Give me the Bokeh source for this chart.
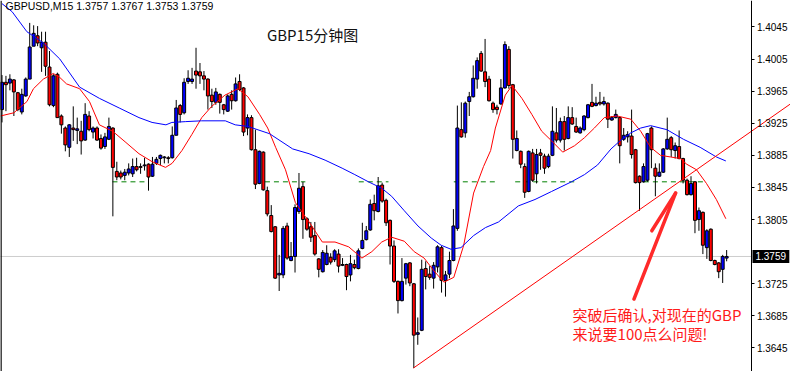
from bokeh.plotting import figure
from bokeh.models import Range1d, FixedTicker, PrintfTickFormatter, Span, ColumnDataSource
from bokeh.embed import file_html
from bokeh.resources import INLINE
from bokeh.core.properties import value

# ---------------- data ----------------
symbol = "GBPUSD,M15"
title_text = "GBP15分钟图"
note_lines = ["突破后确认,对现在的GBP", "来说要100点么问题!"]

opens = [1.3942, 1.3976, 1.3975, 1.3979, 1.3963, 1.3939, 1.3959, 1.3980, 1.4021, 1.4034,
         1.4019, 1.4026, 1.3995, 1.3947, 1.3986, 1.3934, 1.3919, 1.3895, 1.3919, 1.3916,
         1.3915, 1.3904, 1.3934, 1.3914, 1.3919, 1.3906, 1.3896, 1.3905, 1.3919, 1.3865,
         1.3863, 1.3860, 1.3863, 1.3862, 1.3871, 1.3871, 1.3872, 1.3874, 1.3859, 1.3875,
         1.3881, 1.3882, 1.3882, 1.3882, 1.3910, 1.3947, 1.3938, 1.3977, 1.3977, 1.3990,
         1.3989, 1.3984, 1.3980, 1.3960, 1.3951, 1.3961, 1.3948, 1.3940, 1.3961, 1.3953,
         1.3977, 1.3969, 1.3919, 1.3932, 1.3892, 1.3850, 1.3889, 1.3841, 1.3810, 1.3796,
         1.3736, 1.3736, 1.3797, 1.3754, 1.3759, 1.3815, 1.3846, 1.3806, 1.3796, 1.3785,
         1.3756, 1.3740, 1.3749, 1.3758, 1.3755, 1.3762, 1.3748, 1.3749, 1.3736, 1.3749,
         1.3744, 1.3769, 1.3780, 1.3792, 1.3825, 1.3815, 1.3848, 1.3829, 1.3804, 1.3772,
         1.3728, 1.3704, 1.3732, 1.3751, 1.3725, 1.3662, 1.3667, 1.3744, 1.3737, 1.3732,
         1.3746, 1.3770, 1.3729, 1.3737, 1.3754, 1.3794, 1.3917, 1.3913, 1.3952, 1.3958,
         1.3980, 1.4012, 1.3989, 1.3980, 1.3950, 1.3945, 1.3949, 1.3969, 1.4017, 1.3973,
         1.3891, 1.3890, 1.3871, 1.3840, 1.3888, 1.3862, 1.3888, 1.3884, 1.3871, 1.3885,
         1.3913, 1.3904, 1.3927, 1.3906, 1.3932, 1.3921, 1.3913, 1.3917, 1.3932, 1.3951,
         1.3947, 1.3951, 1.3949, 1.3950, 1.3929, 1.3932, 1.3932, 1.3905, 1.3908, 1.3909,
         1.3892, 1.3859, 1.3852, 1.3854, 1.3919, 1.3869, 1.3859, 1.3864, 1.3893, 1.3907,
         1.3891, 1.3896, 1.3881, 1.3854, 1.3836, 1.3852, 1.3805, 1.3814, 1.3770, 1.3793,
         1.3754, 1.3751, 1.3743, 1.3757]
highs = [1.3985, 1.3984, 1.3986, 1.3980, 1.3964, 1.3968, 1.3982, 1.4050, 1.4047, 1.4046,
         1.4039, 1.4039, 1.4015, 1.3986, 1.3988, 1.3936, 1.3921, 1.3924, 1.3946, 1.3932,
         1.3928, 1.3950, 1.3940, 1.3921, 1.3921, 1.3911, 1.3913, 1.3932, 1.3920, 1.3877,
         1.3866, 1.3868, 1.3875, 1.3881, 1.3882, 1.3875, 1.3882, 1.3875, 1.3883, 1.3883,
         1.3886, 1.3884, 1.3884, 1.3921, 1.3954, 1.3949, 1.3981, 1.3991, 1.3994, 1.4019,
         1.4000, 1.3990, 1.3981, 1.3968, 1.3969, 1.3962, 1.3949, 1.3961, 1.3966, 1.3982,
         1.3986, 1.3970, 1.3936, 1.3935, 1.3917, 1.3891, 1.3890, 1.3846, 1.3823, 1.3797,
         1.3761, 1.3797, 1.3801, 1.3777, 1.3824, 1.3863, 1.3852, 1.3808, 1.3802, 1.3802,
         1.3757, 1.3767, 1.3773, 1.3763, 1.3768, 1.3768, 1.3757, 1.3750, 1.3761, 1.3755,
         1.3769, 1.3801, 1.3797, 1.3830, 1.3836, 1.3858, 1.3851, 1.3831, 1.3805, 1.3779,
         1.3729, 1.3757, 1.3751, 1.3752, 1.3726, 1.3683, 1.3755, 1.3753, 1.3747, 1.3752,
         1.3773, 1.3772, 1.3741, 1.3765, 1.3818, 1.3947, 1.3951, 1.3952, 1.3964, 1.3997,
         1.4007, 1.4015, 1.4030, 1.3984, 1.3952, 1.3948, 1.3980, 1.4027, 1.4021, 1.3974,
         1.3916, 1.3891, 1.3875, 1.3891, 1.3893, 1.3893, 1.3893, 1.3887, 1.3887, 1.3946,
         1.3944, 1.3932, 1.3934, 1.3946, 1.3945, 1.3932, 1.3921, 1.3935, 1.3949, 1.3974,
         1.3958, 1.3964, 1.3958, 1.3951, 1.3934, 1.3942, 1.3933, 1.3919, 1.3915, 1.3942,
         1.3893, 1.3860, 1.3875, 1.3913, 1.3921, 1.3875, 1.3875, 1.3894, 1.3932, 1.3909,
         1.3901, 1.3916, 1.3882, 1.3856, 1.3859, 1.3853, 1.3820, 1.3815, 1.3793, 1.3794,
         1.3755, 1.3752, 1.3761, 1.3767]
lows = [1.3926, 1.3940, 1.3966, 1.3934, 1.3940, 1.3936, 1.3958, 1.3980, 1.4021, 1.4021,
        1.3989, 1.3984, 1.3946, 1.3945, 1.3932, 1.3912, 1.3890, 1.3883, 1.3903, 1.3899,
        1.3886, 1.3903, 1.3915, 1.3906, 1.3903, 1.3892, 1.3893, 1.3904, 1.3809, 1.3854,
        1.3855, 1.3854, 1.3860, 1.3858, 1.3865, 1.3862, 1.3866, 1.3841, 1.3858, 1.3873,
        1.3873, 1.3875, 1.3875, 1.3881, 1.3910, 1.3926, 1.3936, 1.3974, 1.3974, 1.3968,
        1.3974, 1.3966, 1.3942, 1.3944, 1.3948, 1.3937, 1.3936, 1.3939, 1.3942, 1.3952,
        1.3965, 1.3909, 1.3910, 1.3891, 1.3843, 1.3849, 1.3841, 1.3809, 1.3789, 1.3731,
        1.3716, 1.3732, 1.3755, 1.3753, 1.3739, 1.3812, 1.3781, 1.3791, 1.3777, 1.3760,
        1.3733, 1.3739, 1.3748, 1.3749, 1.3752, 1.3739, 1.3747, 1.3717, 1.3728, 1.3743,
        1.3743, 1.3768, 1.3779, 1.3791, 1.3804, 1.3814, 1.3826, 1.3797, 1.3749, 1.3726,
        1.3688, 1.3703, 1.3724, 1.3722, 1.3620, 1.3649, 1.3666, 1.3718, 1.3730, 1.3719,
        1.3739, 1.3714, 1.3709, 1.3732, 1.3753, 1.3791, 1.3907, 1.3907, 1.3934, 1.3957,
        1.3968, 1.3989, 1.3970, 1.3952, 1.3938, 1.3936, 1.3948, 1.3968, 1.3968, 1.3881,
        1.3890, 1.3869, 1.3832, 1.3839, 1.3852, 1.3850, 1.3867, 1.3862, 1.3869, 1.3884,
        1.3901, 1.3901, 1.3891, 1.3905, 1.3923, 1.3913, 1.3912, 1.3915, 1.3931, 1.3945,
        1.3946, 1.3947, 1.3947, 1.3919, 1.3928, 1.3931, 1.3875, 1.3903, 1.3901, 1.3881,
        1.3850, 1.3816, 1.3851, 1.3852, 1.3869, 1.3834, 1.3858, 1.3863, 1.3892, 1.3883,
        1.3881, 1.3880, 1.3850, 1.3835, 1.3835, 1.3788, 1.3791, 1.3762, 1.3756, 1.3753,
        1.3748, 1.3732, 1.3726, 1.3753]
closes = [1.3976, 1.3973, 1.3980, 1.3964, 1.3942, 1.3961, 1.3980, 1.4020, 1.4037, 1.4025,
          1.4026, 1.3996, 1.3948, 1.3984, 1.3932, 1.3923, 1.3898, 1.3923, 1.3917, 1.3918,
          1.3903, 1.3936, 1.3917, 1.3919, 1.3904, 1.3894, 1.3908, 1.3921, 1.3870, 1.3858,
          1.3858, 1.3864, 1.3868, 1.3871, 1.3867, 1.3870, 1.3873, 1.3858, 1.3874, 1.3880,
          1.3885, 1.3883, 1.3881, 1.3910, 1.3944, 1.3936, 1.3976, 1.3981, 1.3980, 1.3985,
          1.3984, 1.3980, 1.3959, 1.3952, 1.3964, 1.3951, 1.3942, 1.3959, 1.3953, 1.3974,
          1.3967, 1.3914, 1.3932, 1.3892, 1.3849, 1.3890, 1.3842, 1.3812, 1.3790, 1.3732,
          1.3738, 1.3794, 1.3757, 1.3759, 1.3820, 1.3844, 1.3805, 1.3793, 1.3783, 1.3762,
          1.3743, 1.3764, 1.3763, 1.3752, 1.3766, 1.3747, 1.3749, 1.3734, 1.3750, 1.3745,
          1.3766, 1.3779, 1.3791, 1.3824, 1.3816, 1.3847, 1.3828, 1.3801, 1.3772, 1.3728,
          1.3704, 1.3728, 1.3750, 1.3726, 1.3661, 1.3664, 1.3743, 1.3734, 1.3733, 1.3748,
          1.3771, 1.3729, 1.3736, 1.3754, 1.3797, 1.3919, 1.3908, 1.3950, 1.3958, 1.3981,
          1.4003, 1.3990, 1.3977, 1.3953, 1.3942, 1.3942, 1.3969, 1.4023, 1.3972, 1.3905,
          1.3906, 1.3874, 1.3839, 1.3890, 1.3854, 1.3886, 1.3885, 1.3869, 1.3884, 1.3915,
          1.3904, 1.3927, 1.3905, 1.3932, 1.3924, 1.3914, 1.3919, 1.3934, 1.3948, 1.3946,
          1.3950, 1.3949, 1.3952, 1.3930, 1.3932, 1.3936, 1.3897, 1.3910, 1.3911, 1.3886,
          1.3851, 1.3851, 1.3871, 1.3912, 1.3892, 1.3859, 1.3864, 1.3893, 1.3905, 1.3892,
          1.3897, 1.3881, 1.3854, 1.3836, 1.3850, 1.3804, 1.3816, 1.3773, 1.3791, 1.3754,
          1.3749, 1.3740, 1.3759, 1.3759]

# moving averages (bar index, price)
red_ma_idx = [-0.4, 3.0, 6.3, 7.95, 10.45, 12.95, 14.6, 16.3, 19.6, 22.1, 24.6, 27.95, 31.3,
              34.6, 37.95, 41.3, 42.95, 45.45, 47.95, 50.45, 52.95, 56.3, 59.6, 62.1, 65.05,
              67.1, 69.1, 71.6, 74.1, 77.55, 80.9, 84.1, 87.55, 90.9, 93.4, 95.9, 98.4, 101.6,
              104.1, 106.6, 109.1, 111.6, 114.1, 116.6, 119.1, 121.6, 123.4, 124.6, 127.1,
              128.8, 131.3, 133.8, 136.3, 138.8, 141.6, 144.6, 147.1, 149.6, 152.1, 155.4,
              158.8, 161.3, 163.8, 166.3, 168.8, 171.3, 172.9, 175.4, 177.9, 180.4, 182.8]
red_ma_val = [1.3934, 1.3938, 1.3952, 1.3968, 1.3980, 1.3987, 1.3982, 1.3974, 1.3968, 1.3952,
              1.3923, 1.3915, 1.3901, 1.3887, 1.3877, 1.3870, 1.3875, 1.3891, 1.3911, 1.3932,
              1.3946, 1.3960, 1.3968, 1.3958, 1.3936, 1.3919, 1.3895, 1.3867, 1.3826, 1.3802,
              1.3777, 1.3777, 1.3771, 1.3757, 1.3765, 1.3777, 1.3783, 1.3778, 1.3765, 1.3757,
              1.3741, 1.3727, 1.3733, 1.3773, 1.3838, 1.3871, 1.3891, 1.3919, 1.3960, 1.3972,
              1.3956, 1.3936, 1.3915, 1.3903, 1.3889, 1.3897, 1.3907, 1.3919, 1.3932, 1.3934,
              1.3930, 1.3915, 1.3895, 1.3885, 1.3883, 1.3881, 1.3874, 1.3867, 1.3850, 1.3830,
              1.3806]
blue_ma_idx = [0.0, 2.55, 6.3, 10.45, 14.6, 19.6, 24.6, 29.6, 34.6, 37.9, 41.4, 42.9, 46.4,
               50.4, 56.4, 58.9, 62.1, 67.55, 73.4, 77.55, 81.6, 85.9, 89.1, 92.55, 95.9, 98.4,
               101.6, 105.05, 108.4, 110.9, 113.4, 115.9, 119.1, 122.1, 125.4, 130.4, 134.6,
               138.8, 143.8, 147.1, 150.4, 153.8, 156.3, 158.8, 161.3, 163.8, 167.9, 172.1,
               176.3, 180.4, 182.8]
blue_ma_val = [1.4074, 1.4064, 1.4039, 1.4025, 1.4005, 1.3970, 1.3956, 1.3944, 1.3932, 1.3926,
               1.3923, 1.3926, 1.3927, 1.3928, 1.3928, 1.3923, 1.3921, 1.3912, 1.3893, 1.3887,
               1.3879, 1.3869, 1.3861, 1.3852, 1.3844, 1.3834, 1.3816, 1.3797, 1.3782, 1.3773,
               1.3768, 1.3770, 1.3785, 1.3795, 1.3802, 1.3822, 1.3830, 1.3840, 1.3852, 1.3861,
               1.3873, 1.3893, 1.3904, 1.3913, 1.3919, 1.3922, 1.3917, 1.3905, 1.3895, 1.3883,
               1.3878]

# dashed support level (price) and the bar spans where it is drawn
level_price = 1.3852
level_start = [27.9, 66.4, 90.1, 114.1, 129.6, 162.1]
level_end = [37.1, 76.6, 97.6, 124.6, 144.6, 177.9]

# hand-drawn trend line and arrow (bar index, price)
trend_idx = [103.9, 199.1]
trend_val = [1.3620, 1.3949]
arrow_x0 = [159.6, 164.1]
arrow_y0 = [1.3706, 1.3791]
arrow_x1 = [170.1, 170.1]
arrow_y1 = [1.3838, 1.3838]

price_ticks = [1.4045, 1.4005, 1.3965, 1.3925, 1.3885, 1.3845, 1.3805, 1.3725, 1.3685, 1.3645]

# ---------------- figure ----------------
W, H = 790, 371
X0, X1 = -0.375, 199.125      # visible bar range (whole window)
AXIS_X = 189.375              # where the price scale sits
p = figure(width=W, height=H, output_backend="svg", toolbar_location=None,
           x_range=Range1d(X0, X1), y_range=Range1d(1.36157, 1.40779),
           x_axis_location=None, y_axis_location="right",
           min_border_left=0, min_border_top=0, min_border_bottom=0, min_border_right=0)
p.grid.visible = False
p.outline_line_color = None
p.background_fill_color = "white"

ax = p.yaxis[0]
ax.fixed_location = AXIS_X
ax.ticker = FixedTicker(ticks=price_ticks)
ax.formatter = PrintfTickFormatter(format="%.4f")
ax.axis_line_color = "black"
ax.major_tick_line_color = "black"
ax.major_tick_out = 3
ax.major_tick_in = 0
ax.minor_tick_line_color = None
ax.major_label_standoff = 2
ax.major_label_text_font = "Liberation Sans"
ax.major_label_text_font_size = "10px"
ax.major_label_text_color = "black"

idx = list(range(len(opens)))
tops = [max(o, c) for o, c in zip(opens, closes)]
bots = [min(o, c) for o, c in zip(opens, closes)]
fills = ["#0000ff" if c >= o else "#ff0000" for o, c in zip(opens, closes)]
src = ColumnDataSource(dict(x=idx, o=opens, h=highs, l=lows, c=closes, top=tops, bot=bots, fill=fills))

# left border of chart window
p.add_layout(Span(location=X0 + 0.12, dimension="height", line_color="black", line_width=1.5))

# current price line (up to the price scale)
last = closes[-1]
p.segment(x0=[X0], y0=[last], x1=[AXIS_X], y1=[last], line_color="#9a9a9a",
          line_width=1, line_dash="1 1")

# dashed level
p.segment(x0=level_start, y0=[level_price] * len(level_start), x1=level_end,
          y1=[level_price] * len(level_end), line_color="#008000", line_width=1, line_dash="5 4")

# candles
p.segment(x0="x", y0="l", x1="x", y1="h", source=src, line_color="black", line_width=1)
p.vbar(x="x", width=0.75, top="top", bottom="bot", source=src, fill_color="fill",
       line_color="black", line_width=1)

# moving averages
p.line(red_ma_idx, red_ma_val, line_color="#ff0000", line_width=1)
p.line(blue_ma_idx, blue_ma_val, line_color="#0000ff", line_width=1)

# trend line and arrow
p.line(trend_idx, trend_val, line_color="#ff0000", line_width=1)
p.segment(x0=arrow_x0, y0=arrow_y0, x1=arrow_x1, y1=arrow_y1, line_color="#ff2a2a",
          line_width=3.5, line_cap="round")

# texts
header = f"{symbol}  {opens[-1]:.4f} {highs[-1]:.4f} {lows[-1]:.4f} {closes[-1]:.4f}"
p.text(x=[0.9], y=[1.40712], text=[header], text_font=value("Liberation Sans"),
       text_font_size="10.5px", text_color="black", text_baseline="middle", text_align="left")
p.text(x=[66.9], y=[1.40352], text=[title_text], text_font=value("Noto Sans CJK SC"),
       text_font_size="15px", text_color="#111111", text_baseline="middle", text_align="left")
p.text(x=[144.1, 144.1], y=[1.36865, 1.36633], text=note_lines,
       text_font=value("Noto Sans CJK SC"), text_font_size="15px", text_color="#ff1a1a",
       text_baseline="middle", text_align="left")

# current price marker on the price scale
p.quad(left=[AXIS_X + 0.15], right=[X1 - 0.3], bottom=[last - 0.0008], top=[last + 0.0008],
       fill_color="black", line_color=None)
p.text(x=[AXIS_X + 0.9], y=[last], text=[f"{last:.4f}"], text_font=value("Liberation Sans"),
       text_font_size="10px", text_color="white", text_baseline="middle", text_align="left")

open("out.html", "w").write(file_html(p, INLINE))
